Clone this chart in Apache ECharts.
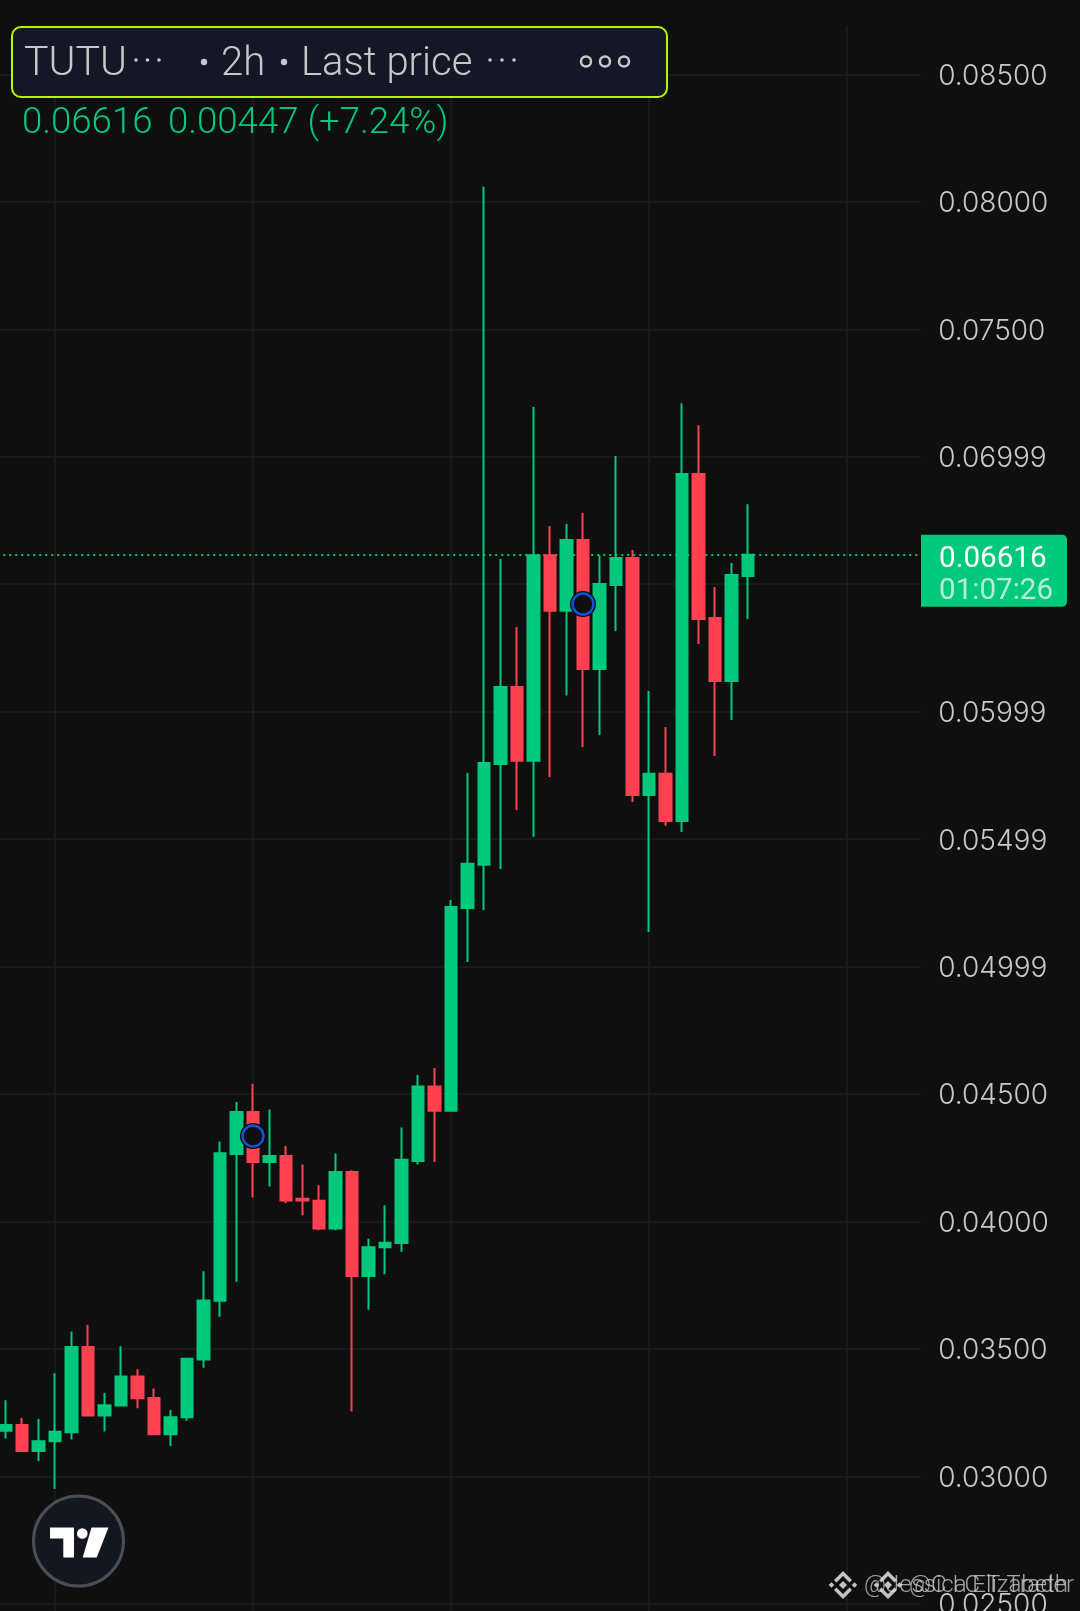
<!DOCTYPE html>
<html>
<head>
<meta charset="utf-8">
<style>html,body{margin:0;padding:0;background:#0f0f0f}#c{width:1080px;height:1611px}</style>
<script src="https://cdn.jsdelivr.net/npm/echarts@6/dist/echarts.min.js"></script>
</head>
<body>
<div id="c"></div>
<script>
const opens  = [.03179,.03201,.03099,.03138,.03173,.03507,.03239,.03278,.03392,.03307,.03165,.03232,.03458,.03689,.04265,.04429,.04233,.04257,.04089,.04081,.03972,.04194,.03786,.03899,.03915,.04237,.04529,.04434,.0523,.05399,.05795,.06097,.05807,.06614,.06396,.06673,.06167,.06497,.06603,.05673,.05756,.05571,.06932,.06367,.0612,.06532];
const closes = [.03201,.03099,.03138,.03175,.03507,.03239,.03279,.03392,.03306,.03165,.03232,.03461,.0369,.04268,.04429,.04233,.04257,.04082,.04082,.03972,.04194,.03786,.03899,.03916,.04242,.04529,.04434,.05234,.05403,.05799,.06097,.05807,.06614,.06396,.06673,.06167,.06501,.06603,.05673,.05756,.05571,.06932,.06363,.0612,.06536,.06616];
const lows   = [.03148,.03099,.0306,.0295,.03145,.03239,.03176,.03278,.03267,.03165,.03119,.03218,.03426,.03626,.03763,.04094,.04137,.04071,.04024,.03965,.03965,.03254,.03654,.03793,.03881,.04223,.04233,.04434,.05018,.05222,.05383,.05614,.05509,.05744,.06063,.05861,.05908,.06316,.05646,.05136,.05552,.05528,.06265,.05826,.05967,.06363];
const highs  = [.03299,.03229,.03225,.03404,.03568,.03595,.03327,.0351,.0342,.03345,.0326,.03464,.03805,.04314,.04469,.0454,.04439,.04296,.04223,.04142,.04267,.04201,.03932,.04064,.04369,.04575,.04602,.05261,.05759,.08059,.06599,.06332,.07195,.06728,.06736,.06779,.06614,.07003,.06634,.06081,.0594,.0721,.07124,.06489,.06583,.06814];
const slotCount = 56;
const categories = Array.from({length: slotCount}, (_, i) => String(i));
const yTickLabels = {"0.02500":"0.02500","0.03000":"0.03000","0.03500":"0.03500","0.04000":"0.04000","0.04500":"0.04500","0.05000":"0.04999","0.05500":"0.05499","0.06000":"0.05999","0.06500":"","0.07000":"0.06999","0.07500":"0.07500","0.08000":"0.08000","0.08500":"0.08500"};
const lastPrice = 0.06616;
const signalPoints = [[15, 0.04335], [35, 0.06422]];

const GREEN = '#00c97c', RED = '#ff4150', BG = '#0f0f0f', GRID = '#191919', TXT = '#c8c8c8';
const FONT = 'Roboto, sans-serif', NUM = 'Inter, sans-serif';
const candles = opens.map((o, i) => [o, closes[i], lows[i], highs[i]]);

const chart = echarts.init(document.getElementById('c'), null, {renderer: 'canvas'});
chart.setOption({
  animation: false,
  backgroundColor: BG,
  grid: {left: -2.75, right: 158.75, top: -53.05, bottom: -120.25, containLabel: false, outerBoundsMode: 'none'},
  xAxis: {
    type: 'category', data: categories, boundaryGap: true,
    axisLine: {show: false}, axisTick: {show: false}, axisLabel: {show: false},
    splitLine: {show: true, alignWithLabel: true, interval: i => (i - 3) % 12 === 0, lineStyle: {color: GRID, width: 2}}
  },
  yAxis: {
    type: 'value', position: 'right', min: 0.02, max: 0.09, interval: 0.005, scale: true,
    axisLine: {show: false}, axisTick: {show: false},
    splitLine: {show: true, lineStyle: {color: GRID, width: 2}},
    axisLabel: {
      show: true, margin: 17, color: TXT, fontFamily: NUM, fontSize: 28, fontWeight: 300,
      verticalAlign: 'top', lineHeight: 4,
      showMinLabel: true, showMaxLabel: true,
      formatter: v => yTickLabels[v.toFixed(5)] ?? ''
    }
  },
  series: [
    {
      type: 'candlestick', data: candles, barWidth: 12, z: 3, clip: false,
      itemStyle: {color: GREEN, color0: RED, borderColor: GREEN, borderColor0: RED, borderWidth: 2},
      markLine: {
        silent: true, symbol: 'none', z: 1, animation: false, precision: 5,
        label: {show: false},
        lineStyle: {color: GREEN, type: [2, 4], width: 2},
        data: [{yAxis: lastPrice}]
      }
    },
    {
      type: 'scatter', data: signalPoints, symbol: 'circle', symbolSize: 26, z: 4, silent: true,
      itemStyle: {color: '#050505', opacity: 1}
    },
    {
      type: 'scatter', data: signalPoints, symbol: 'circle', symbolSize: 21, z: 5, silent: true,
      itemStyle: {color: BG, borderColor: '#0f52dc', borderWidth: 2.5, opacity: 1}
    }
  ]
});

const tagY = chart.convertToPixel({yAxisIndex: 0}, lastPrice);
const txt = (text, x, y, size, fill, weight, family) => ({
  type: 'text', z: 20, style: {text, x, y, fill, font: `${weight || 300} ${size}px ${family || FONT}`, verticalAlign: 'middle'}
});
const dot = (cx, cy, r, fill) => ({type: 'circle', z: 20, shape: {cx, cy, r}, style: {fill}});
const ring = (cx, cy, r) => ({type: 'circle', z: 20, shape: {cx, cy, r}, style: {fill: 'none', stroke: TXT, lineWidth: 2.5}});
const poly = (points, fill, opacity) => ({type: 'polygon', z: 20, shape: {points}, style: {fill, opacity: opacity ?? 1}});
const binance = (cx, cy, fill) => {
  const d = (x, y, r) => poly([[x, y - r], [x + r, y], [x, y + r], [x - r, y]], fill);
  const arc = s => poly([[cx, cy + s * 14], [cx + 9, cy + s * 5], [cx + 6.5, cy + s * 2.5], [cx, cy + s * 9], [cx - 6.5, cy + s * 2.5], [cx - 9, cy + s * 5]], fill);
  return [d(cx, cy, 4), d(cx - 11.5, cy, 2.8), d(cx + 11.5, cy, 2.8), arc(-1), arc(1)];
};

chart.setOption({
  graphic: {elements: [
    // vertical gridlines stop below the top band
    {type: 'rect', z: 15, shape: {x: 0, y: 0, width: 1080, height: 26}, style: {fill: BG}},
    // header box
    {type: 'rect', z: 19, shape: {x: 12, y: 27, width: 655, height: 70, r: 9}, style: {fill: '#141826', stroke: '#b8f400', lineWidth: 2}},
    txt('TUTU', 24, 65, 41, TXT),
    dot(136, 60, 1.8, TXT), dot(147.5, 60, 1.8, TXT), dot(159, 60, 1.8, TXT),
    dot(204, 62, 3.2, TXT),
    txt('2h', 221, 65, 40, TXT),
    dot(284, 62, 3.2, TXT),
    txt('Last price', 301, 65, 40, TXT),
    dot(490, 60, 1.8, TXT), dot(502, 60, 1.8, TXT), dot(514, 60, 1.8, TXT),
    ring(586, 61.5, 5), ring(605, 61.5, 5), ring(624, 61.5, 5),
    // value line
    txt('0.06616', 22, 124, 36.6, GREEN),
    txt('0.00447 (+7.24%)', 168, 124, 36.6, GREEN),
    // last price tag
    {type: 'rect', z: 19, shape: {x: 921, y: tagY - 20, width: 146, height: 72, r: [0, 5, 5, 0]}, style: {fill: GREEN}},
    txt('0.06616', 939, tagY + 5, 29.6, '#ffffff', 400),
    txt('01:07:26', 939, tagY + 37, 29.6, 'rgba(255,255,255,0.7)', 400),
    // logo
    {type: 'circle', z: 20, shape: {cx: 78.5, cy: 1541, r: 45}, style: {fill: '#131722', stroke: '#4b4e56', lineWidth: 3}},
    poly([[50, 1527.5], [74, 1527.5], [74, 1557.5], [63.3, 1557.5], [63.3, 1538.5], [50, 1538.5]], '#ffffff'),
    dot(82.3, 1533.5, 5.3, '#ffffff'),
    poly([[91.5, 1527.5], [108.5, 1527.5], [96.7, 1557.5], [82.7, 1557.5]], '#ffffff'),
    // watermarks
    ...binance(843, 1585, 'rgba(215,215,215,0.9)'),
    txt('@Jessica Elizabeth', 864, 1586, 24, 'rgba(215,215,215,0.75)'),
    ...binance(888, 1585, 'rgba(215,215,215,0.9)'),
    txt('@C I C T Trader', 909, 1586, 24, 'rgba(215,215,215,0.75)')
  ]}
});
</script>
</body>
</html>
